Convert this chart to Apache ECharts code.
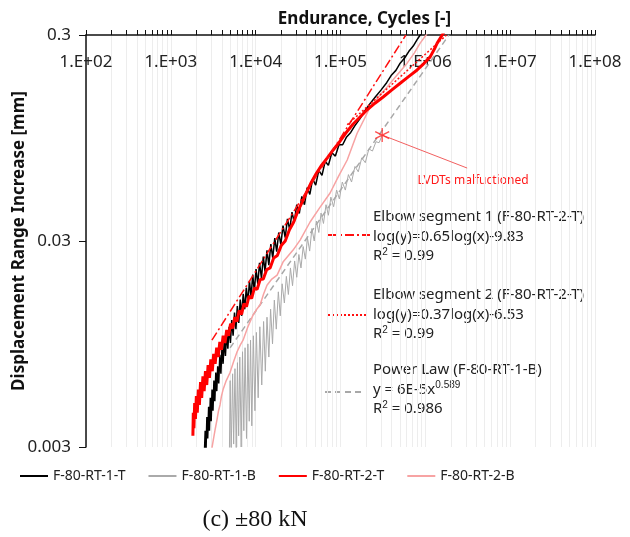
<!DOCTYPE html>
<html>
<head>
<meta charset="utf-8">
<title>Displacement range increase vs endurance</title>
<script src="https://cdn.jsdelivr.net/npm/echarts@6/dist/echarts.min.js"></script>
<style>
    html, body { margin: 0; padding: 0; background: #fff; }
    #chart { width: 630px; height: 537px; }
</style>
</head>
<body>
<div id="chart"></div>
<script>
'use strict';

// [cycles, mm]
var specimen1T = [
    [2480, 0.0027], [2540, 0.0036], [2600, 0.0029], [2660, 0.0042], [2720, 0.0033], [2790, 0.0047],
    [2850, 0.0036], [2920, 0.0052], [2990, 0.0040], [3060, 0.0057], [3140, 0.0045], [3220, 0.0063],
    [3300, 0.0050], [3390, 0.0069], [3480, 0.0056], [3570, 0.0074], [3670, 0.0061], [3780, 0.0084],
    [3890, 0.0068], [4010, 0.0092], [4130, 0.0076], [4260, 0.0100], [4400, 0.0083], [4550, 0.0108],
    [4700, 0.0090], [4870, 0.0115], [5040, 0.0096], [5230, 0.0124], [5420, 0.0104], [5630, 0.0135],
    [5850, 0.0112], [6080, 0.0145], [6320, 0.0120], [6580, 0.0156], [6850, 0.0130], [7130, 0.0166],
    [7430, 0.0140], [7750, 0.0178], [8090, 0.0150], [8450, 0.0192], [8830, 0.0160], [9230, 0.0206],
    [9650, 0.0171], [10100, 0.0219], [10600, 0.0185], [11100, 0.0235], [11700, 0.0198], [12300, 0.0252],
    [12900, 0.0213], [13600, 0.0270], [14300, 0.0229], [15100, 0.0290], [15900, 0.0248], [16800, 0.0310],
    [17700, 0.0266], [18700, 0.0330], [19800, 0.0288], [21000, 0.0356], [22300, 0.0312], [23700, 0.0384],
    [25200, 0.0340], [26800, 0.0414], [28500, 0.0370], [30500, 0.0450], [32700, 0.0408], [35000, 0.0494],
    [37600, 0.0450], [40500, 0.0545], [43500, 0.0505], [47000, 0.0600], [51000, 0.0560], [55500, 0.0660],
    [60500, 0.0625], [66000, 0.0730], [72000, 0.0700], [79000, 0.0805], [87000, 0.0775], [96000, 0.0880],
    [106000, 0.0880], [118000, 0.0960], [132000, 0.1010], [148000, 0.1090], [170000, 0.1180], [195000, 0.1290],
    [225000, 0.1400], [260000, 0.1510], [300000, 0.1620], [350000, 0.1760], [400000, 0.1920], [450000, 0.2020],
    [505000, 0.2190], [570000, 0.2320], [640000, 0.2500], [720000, 0.2650], [800000, 0.2850], [869000, 0.3000],
    [950000, 0.3200]
];

var specimen1B = [
    [4900, 0.0028], [5000, 0.0063], [5150, 0.0029], [5350, 0.0068], [5500, 0.0031], [5700, 0.0072],
    [5900, 0.0029], [6100, 0.0077], [6300, 0.0034], [6500, 0.0082], [6750, 0.0030], [7000, 0.0087],
    [7250, 0.0036], [7500, 0.0091], [7800, 0.0033], [8100, 0.0095], [8400, 0.0040], [8700, 0.0099],
    [9000, 0.0038], [9400, 0.0104], [9800, 0.0045], [10200, 0.0108], [10700, 0.0052], [11200, 0.0115],
    [11800, 0.0060], [12400, 0.0122], [13000, 0.0070], [13600, 0.0128], [14300, 0.0082], [15000, 0.0140],
    [15800, 0.0095], [16600, 0.0155], [17500, 0.0112], [18500, 0.0170], [19500, 0.0130], [20500, 0.0186],
    [21800, 0.0150], [23000, 0.0202], [24300, 0.0165], [25700, 0.0222], [27200, 0.0182], [28800, 0.0240],
    [30500, 0.0200], [32300, 0.0258], [34200, 0.0222], [36300, 0.0282], [38500, 0.0245], [40800, 0.0310],
    [43300, 0.0268], [46000, 0.0345], [49000, 0.0300], [52000, 0.0375], [55500, 0.0330], [59000, 0.0410],
    [63000, 0.0365], [67500, 0.0450], [72000, 0.0400], [77000, 0.0490], [83000, 0.0440], [90000, 0.0530],
    [97000, 0.0480], [105000, 0.0580], [114000, 0.0530], [124000, 0.0630], [135000, 0.0580], [148000, 0.0690],
    [162000, 0.0650], [178000, 0.0760], [196000, 0.0720], [216000, 0.0840], [238000, 0.0820], [262000, 0.0910],
    [285000, 0.0900], [310000, 0.0980]
];

var specimen2T = [
    [1820, 0.0034], [1840, 0.0044], [1870, 0.0037], [1910, 0.0049], [1950, 0.0041], [2000, 0.0053],
    [2050, 0.0044], [2110, 0.0057], [2170, 0.0048], [2240, 0.0062], [2310, 0.0052], [2390, 0.0066],
    [2470, 0.0056], [2560, 0.0070], [2650, 0.0060], [2750, 0.0075], [2850, 0.0065], [2960, 0.0080],
    [3080, 0.0070], [3200, 0.0085], [3330, 0.0076], [3470, 0.0091], [3620, 0.0082], [3780, 0.0097],
    [3950, 0.0089], [4140, 0.0104], [4340, 0.0096], [4560, 0.0111], [4800, 0.0104], [5060, 0.0119],
    [5350, 0.0113], [5670, 0.0128], [6020, 0.0122], [6400, 0.0138], [6820, 0.0132], [7280, 0.0149],
    [7790, 0.0144], [8350, 0.0162], [8970, 0.0158], [9650, 0.0177], [10400, 0.0175], [11300, 0.0195],
    [12300, 0.0196], [13500, 0.0218], [14800, 0.0222], [16300, 0.0248], [18000, 0.0255], [20000, 0.0285],
    [22300, 0.0300], [25000, 0.0340], [28000, 0.0370], [31500, 0.0420], [35500, 0.0465], [40000, 0.0520],
    [45500, 0.0580], [52000, 0.0640], [60000, 0.0700], [70000, 0.0760], [82000, 0.0830], [96000, 0.0900],
    [115000, 0.1000], [141000, 0.1110], [170000, 0.1200], [206000, 0.1300], [255000, 0.1400], [318000, 0.1500],
    [400000, 0.1620], [505000, 0.1750], [640000, 0.1890], [800000, 0.2030], [960000, 0.2180], [1140000, 0.2350],
    [1270000, 0.2550], [1380000, 0.2740], [1580000, 0.3000], [1700000, 0.3150]
];

var specimen2B = [
    [2980, 0.0028], [3150, 0.0032], [3350, 0.0037], [3510, 0.0041], [3650, 0.0045], [3800, 0.0048],
    [3950, 0.0053], [4130, 0.0057], [4500, 0.0063], [4990, 0.0069], [5500, 0.0078], [6040, 0.0087],
    [6600, 0.0094], [7100, 0.0099], [8100, 0.0115], [9300, 0.0131], [10300, 0.0140], [11300, 0.0147],
    [12400, 0.0166], [13600, 0.0183], [15500, 0.0196], [17900, 0.0205], [21000, 0.0237], [27600, 0.0271],
    [33400, 0.0303], [43800, 0.0371], [57500, 0.0438], [75400, 0.0513], [95000, 0.0620], [120000, 0.0742],
    [157000, 0.1000], [190000, 0.1170], [223000, 0.1340], [280000, 0.1500], [355000, 0.1680], [470000, 0.1930],
    [610000, 0.2190], [740000, 0.2450], [869000, 0.2740], [1021000, 0.3000], [1100000, 0.3150]
];

// fitted lines, end points
var elbowSegment1 = [[3050, 0.0099], [590000, 0.300]];
var elbowSegment2 = [[120000, 0.110], [1780000, 0.300]];
var powerLaw = [[5000, 0.0091], [1900000, 0.300]];

var lvdtFailure = [[310000, 0.098]];
var lvdtLeaderEnd = [3110000, 0.0678];

var legendNames = ['F-80-RT-1-T', 'F-80-RT-1-B', 'F-80-RT-2-T', 'F-80-RT-2-B'];
var xDecades = [2, 3, 4, 5, 6, 7, 8];
var yTicks = [0.003, 0.03, 0.3];

var fitNotes = [
    ['Elbow segment 1 (F-80-RT-2-T)', 'log(y)=0.65log(x)-9.83', 'R{sup|2} = 0.99'],
    ['Elbow segment 2 (F-80-RT-2-T)', 'log(y)=0.37log(x)-6.53', 'R{sup|2} = 0.99'],
    ['Power Law (F-80-RT-1-B)', 'y = 6E-5x{sup|0.589}', 'R{sup|2} = 0.986']
];

var FONT = 'Noto Sans';

var toLog = function (points) {
    return points.map(function (p) {
        return [Math.log10(p[0]), Math.log10(p[1])];
    });
};

var minorX = [];
xDecades.forEach(function (d) {
    for (var k = 1; k <= 9; k++) {
        var v = d + Math.log10(k);
        if (v <= xDecades[xDecades.length - 1] + 1e-9) {
            minorX.push(v);
        }
    }
});

var yLogTicks = yTicks.map(function (v) { return Math.log10(v); });

var lineSeries = function (name, data, color, width, type, z) {
    return {
        name: name,
        type: 'line',
        data: toLog(data),
        showSymbol: false,
        symbol: 'none',
        z: z,
        silent: true,
        lineStyle: { color: color, width: width, type: type || 'solid' },
        itemStyle: { color: color }
    };
};

// legend samples + text for the three fits
var noteGraphics = [];
var noteTop = [217, 295, 370];
var noteSamples = [
    { color: '#ff1010', dash: [9, 3, 2, 3], x1: 328, x2: 370, dy: 18 },
    { color: '#ff1010', dash: [2, 2], x1: 328, x2: 368, dy: 20 },
    { color: '#a8a8a8', dash: [6, 4], x1: 325, x2: 365, dy: 22 }
];
fitNotes.forEach(function (lines, i) {
    lines.forEach(function (txt, j) {
        noteGraphics.push({
            type: 'text',
            x: 373,
            y: noteTop[i] + j * 19.5,
            style: {
                text: txt,
                fill: '#222',
                font: '15px "' + FONT + '"',
                align: 'left',
                verticalAlign: 'middle',
                rich: {
                    sup: { fontSize: 10, verticalAlign: 'top', padding: [0, 0, 8, 0], fill: '#222' }
                }
            }
        });
    });
    var s = noteSamples[i];
    noteGraphics.push({
        type: 'line',
        shape: { x1: s.x1, y1: noteTop[i] + s.dy, x2: s.x2, y2: noteTop[i] + s.dy },
        style: { stroke: s.color, lineWidth: 2, lineDash: s.dash }
    });
});

var chart = echarts.init(document.getElementById('chart'), null, { renderer: 'canvas' });

chart.setOption({
    backgroundColor: '#fff',
    animation: false,
    textStyle: { fontFamily: FONT },
    grid: { left: 86, top: 35, right: 35, bottom: 90, containLabel: false, outerBoundsMode: 'none' },
    legend: {
        data: legendNames,
        left: 20,
        top: 469,
        padding: 0,
        icon: 'rect',
        itemWidth: 28,
        itemHeight: 2,
        itemGap: 23,
        textStyle: { fontSize: 14, color: '#222', fontFamily: FONT }
    },
    xAxis: {
        type: 'value',
        position: 'top',
        min: 2,
        max: 8,
        name: 'Endurance, Cycles [-]',
        nameLocation: 'middle',
        nameGap: 7,
        nameMoveOverlap: false,
        nameTextStyle: { fontSize: 17, fontWeight: 'bold', color: '#111', padding: [0, 0, 0, 48] },
        axisLine: { show: true, lineStyle: { color: '#111', width: 1.5 } },
        axisTick: { show: true, inside: false, length: 5, customValues: minorX, lineStyle: { color: '#111' } },
        axisLabel: {
            inside: true,
            margin: 19,
            fontSize: 17,
            color: '#222',
            customValues: xDecades,
            formatter: function (v) { return '1.E+0' + Math.round(v); }
        },
        splitLine: { show: true, lineStyle: { color: '#ededed', width: 1 } }
    },
    yAxis: {
        type: 'value',
        min: yLogTicks[0] - 1e-9,
        max: yLogTicks[yLogTicks.length - 1] + 1e-9,
        name: 'Displacement Range Increase [mm]',
        nameLocation: 'middle',
        nameGap: 58,
        nameRotate: 90,
        nameMoveOverlap: false,
        nameTextStyle: { fontSize: 17, fontWeight: 'bold', color: '#111' },
        axisLine: { show: true, lineStyle: { color: '#111', width: 1.5 } },
        axisTick: { show: true, length: 7, customValues: yLogTicks, lineStyle: { color: '#111' } },
        axisLabel: {
            margin: 15,
            fontSize: 17,
            color: '#222',
            customValues: yLogTicks,
            formatter: function (v) { return String(parseFloat(Math.pow(10, v).toPrecision(2))); }
        },
        splitLine: { show: false }
    },
    series: [
        lineSeries('Power Law', powerLaw, '#a8a8a8', 1.5, [6, 4], 1),
        lineSeries(legendNames[1], specimen1B, '#aaaaaa', 1, 'solid', 2),
        lineSeries(legendNames[0], specimen1T, '#000000', 1.5, 'solid', 3),
        lineSeries(legendNames[3], specimen2B, '#f7a3a3', 1.5, 'solid', 4),
        lineSeries(legendNames[2], specimen2T, '#ff0000', 3, 'solid', 5),
        lineSeries('Elbow segment 1', elbowSegment1, '#ff1010', 1.5, [9, 3, 2, 3], 6),
        lineSeries('Elbow segment 2', elbowSegment2, '#ff1010', 1.5, [2, 2], 6),
        {
            name: 'LVDTs malfuctioned',
            type: 'scatter',
            data: toLog(lvdtFailure),
            symbol: 'path://M0,-10L0,10M-8.66,-5L8.66,5M-8.66,5L8.66,-5',
            symbolSize: 14,
            z: 7,
            silent: true,
            itemStyle: { color: 'none', borderColor: '#ff2020', borderWidth: 1.3 },
            markLine: {
                silent: true,
                symbol: ['none', 'none'],
                label: { show: false },
                lineStyle: { color: '#f26060', width: 1, type: 'solid' },
                data: [[
                    { coord: toLog(lvdtFailure)[0] },
                    { coord: toLog([lvdtLeaderEnd])[0] }
                ]]
            }
        }
    ],
    graphic: noteGraphics.concat([
        {
            type: 'text',
            x: 473,
            y: 181,
            style: { text: 'LVDTs malfuctioned', fill: '#ff1a1a', font: '12px "' + FONT + '"', align: 'center', verticalAlign: 'middle' }
        },
        {
            type: 'text',
            x: 255,
            y: 520,
            style: { text: '(c) ±80 kN', fill: '#111', font: '24px "Liberation Serif"', align: 'center', verticalAlign: 'middle' }
        }
    ])
});
</script>
</body>
</html>
